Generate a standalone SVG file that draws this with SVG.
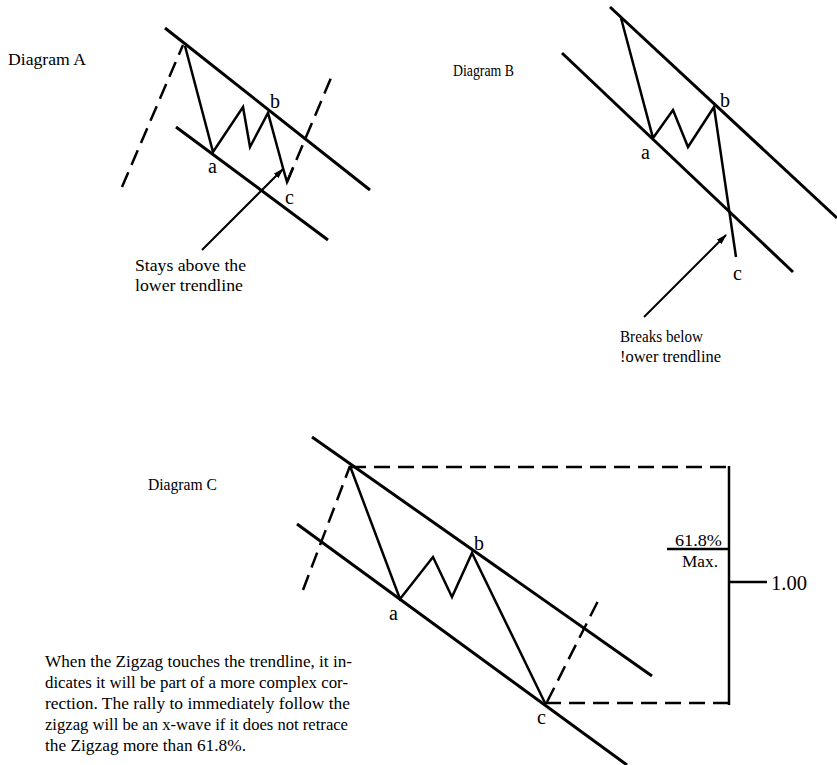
<svg xmlns="http://www.w3.org/2000/svg" width="837" height="765" viewBox="0 0 837 765">
<style>
text{font-family:'Liberation Serif','Times New Roman',Times,serif;fill:#000}
.lbl{font-size:20px}
.tl{stroke:#000;stroke-width:3;fill:none}
.wv{stroke:#000;stroke-width:2.5;fill:none;stroke-linejoin:miter}
.ds{stroke:#000;stroke-width:2.5;fill:none;stroke-dasharray:16,8}
.ar{stroke:#000;stroke-width:2;fill:none}
</style>
<defs>
<marker id="ah" viewBox="0 0 10 10" refX="9" refY="5" markerWidth="11" markerHeight="11" orient="auto" markerUnits="userSpaceOnUse">
<path d="M0,2 L10,5 L0,8 z" fill="#000"/>
</marker>
</defs>
<rect width="837" height="765" fill="#fff"/>

<g id="diagramA">
<text x="8" y="65" font-size="16" textLength="78" lengthAdjust="spacingAndGlyphs">Diagram  A</text>
<line class="tl" x1="165" y1="28" x2="370" y2="190"/>
<line class="tl" x1="176" y1="127" x2="328" y2="240"/>
<line class="ds" x1="122" y1="187" x2="183" y2="45"/>
<line class="ds" x1="287" y1="182" x2="331" y2="78"/>
<polyline class="wv" points="185,46 213,152 243,107 250,147 268,113 283,168 287,182 293,168"/>
<text class="lbl" x="208" y="173">a</text>
<text class="lbl" x="270" y="108">b</text>
<text class="lbl" x="285" y="204">c</text>
<line class="ar" x1="202" y1="250" x2="283" y2="169" marker-end="url(#ah)"/>
<text x="135" y="271" font-size="17" textLength="111" lengthAdjust="spacingAndGlyphs">Stays above the</text>
<text x="135" y="291" font-size="17" textLength="108" lengthAdjust="spacingAndGlyphs">lower trendline</text>
</g>

<g id="diagramB">
<text x="453" y="76" font-size="16" textLength="61" lengthAdjust="spacingAndGlyphs">Diagram B</text>
<line class="tl" x1="610" y1="7" x2="837" y2="218"/>
<line class="tl" x1="562" y1="53" x2="793" y2="272"/>
<polyline class="wv" points="621,18 653,138 673,110 688,147 714,107 736,257"/>
<text class="lbl" x="641" y="159">a</text>
<text class="lbl" x="720" y="107">b</text>
<text class="lbl" x="733" y="280">c</text>
<line class="ar" x1="644" y1="317" x2="726" y2="235" marker-end="url(#ah)"/>
<text x="620" y="342" font-size="17" textLength="83" lengthAdjust="spacingAndGlyphs">Breaks below</text>
<text x="620" y="362" font-size="17" textLength="101" lengthAdjust="spacingAndGlyphs">!ower trendline</text>
</g>

<g id="diagramC">
<text x="148" y="490" font-size="16" textLength="69" lengthAdjust="spacingAndGlyphs">Diagram C</text>
<line class="tl" x1="312" y1="437" x2="652" y2="676"/>
<line class="tl" x1="297" y1="524" x2="627" y2="765"/>
<line class="ds" x1="303" y1="590" x2="350" y2="466"/>
<line class="ds" x1="547" y1="702" x2="598" y2="601"/>
<polyline class="wv" points="350,466 400,599 433,557 452,597 472,553 545,703"/>
<line class="ds" x1="350" y1="467" x2="729" y2="467"/>
<line class="ds" x1="545" y1="703" x2="729" y2="703"/>
<line class="wv" x1="729" y1="466" x2="729" y2="705"/>
<line class="wv" x1="667" y1="549" x2="729" y2="549" stroke-width="2"/>
<line class="wv" x1="729" y1="582" x2="767" y2="582" stroke-width="2"/>
<text x="675" y="546" font-size="17" textLength="47" lengthAdjust="spacingAndGlyphs">61.8%</text>
<text x="682" y="567" font-size="17" textLength="36" lengthAdjust="spacingAndGlyphs">Max.</text>
<text x="771" y="590" font-size="21" textLength="36" lengthAdjust="spacingAndGlyphs">1.00</text>
<text class="lbl" x="389" y="620">a</text>
<text class="lbl" x="474" y="550">b</text>
<text class="lbl" x="537" y="724">c</text>
<g font-size="17">
<text x="45" y="667" textLength="307" lengthAdjust="spacingAndGlyphs">When the Zigzag touches the trendline, it in-</text>
<text x="45" y="688" textLength="303" lengthAdjust="spacingAndGlyphs">dicates it will be part of a more complex cor-</text>
<text x="45" y="709" textLength="305" lengthAdjust="spacingAndGlyphs">rection.  The rally to immediately follow the</text>
<text x="45" y="730" textLength="303" lengthAdjust="spacingAndGlyphs">zigzag will be an x-wave if it does not retrace</text>
<text x="45" y="751" textLength="201" lengthAdjust="spacingAndGlyphs">the Zigzag more than 61.8%.</text>
</g>
</g>
</svg>
